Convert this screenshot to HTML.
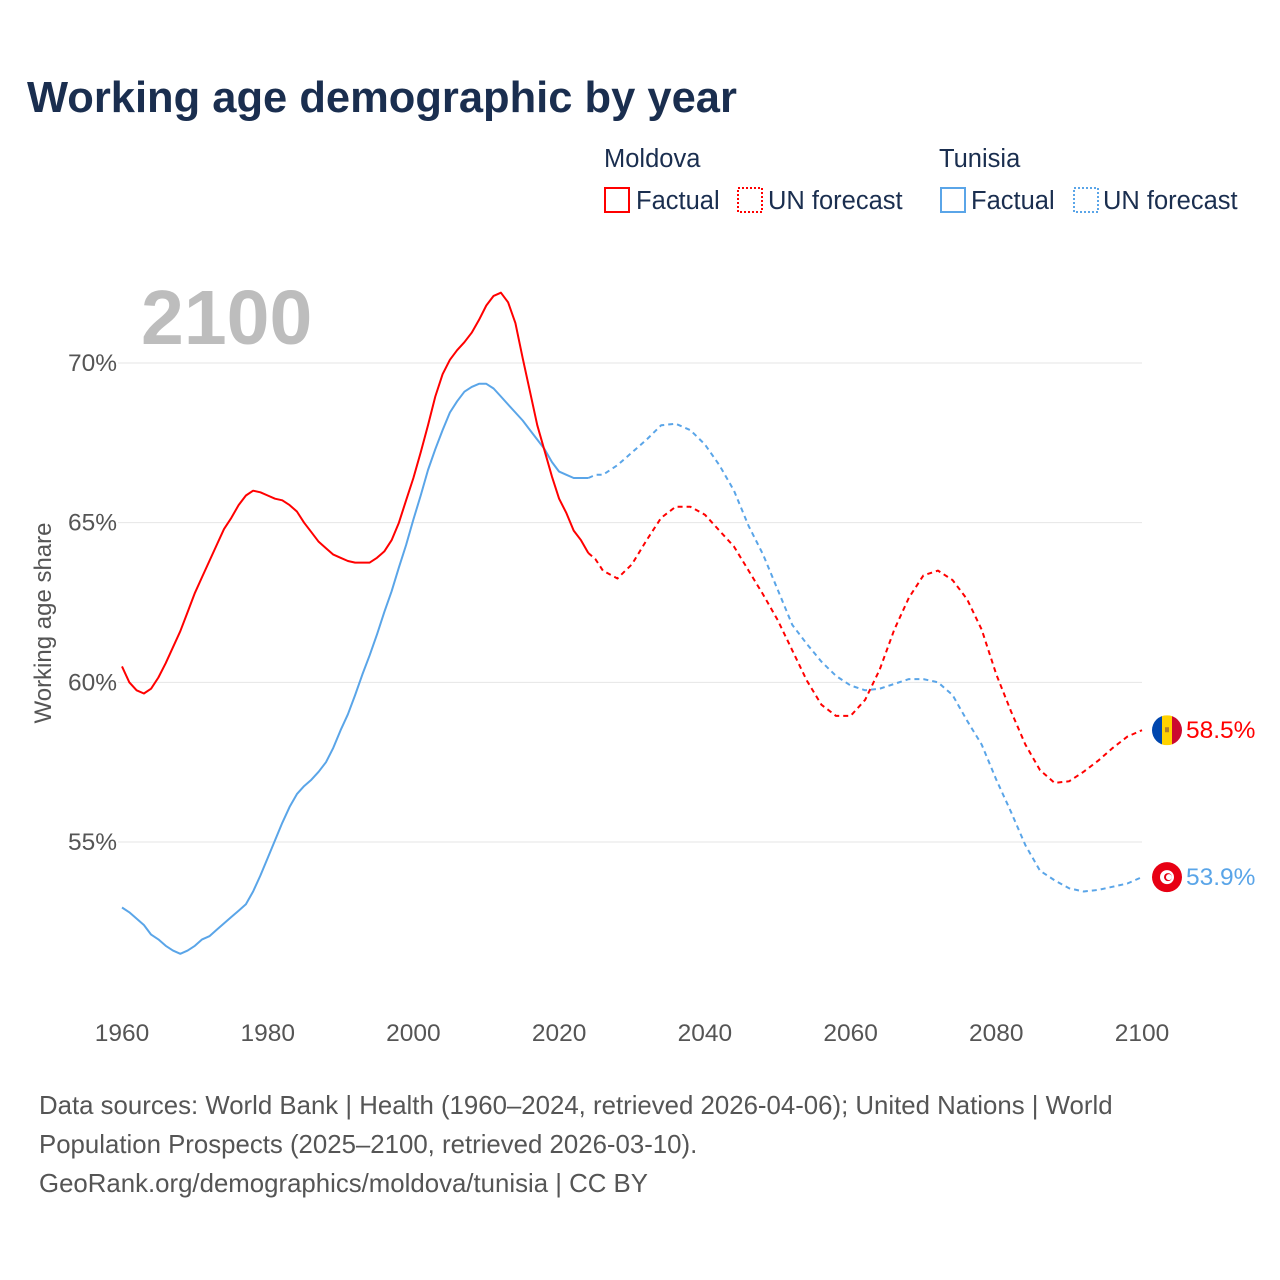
<!DOCTYPE html>
<html><head><meta charset="utf-8">
<style>
body{margin:0;background:#fff;font-family:"Liberation Sans",sans-serif;}
#wrap{position:relative;width:1280px;height:1280px;overflow:hidden;}
</style></head>
<body><div id="wrap">
<svg id="chart" width="1280" height="1280">
<text x="27" y="112" font-size="43.5" font-weight="bold" fill="#1a2e4f">Working age demographic by year</text>
<g font-size="25.5" fill="#1a2e4f">
<text x="604" y="167">Moldova</text>
<text x="939" y="167">Tunisia</text>
<g><rect x="605" y="188" width="24" height="24" fill="none" stroke="#ff0000" stroke-width="2"/><text x="636" y="209">Factual</text></g>
<g><rect x="738" y="188" width="24" height="24" fill="none" stroke="#ff0000" stroke-width="2" stroke-dasharray="2,2"/><text x="768" y="209">UN forecast</text></g>
<g><rect x="941" y="188" width="24" height="24" fill="none" stroke="#5aa5e8" stroke-width="2"/><text x="971" y="209">Factual</text></g>
<g><rect x="1074" y="188" width="24" height="24" fill="none" stroke="#5aa5e8" stroke-width="2" stroke-dasharray="2,2"/><text x="1103" y="209">UN forecast</text></g>
</g>
<text x="141" y="344" font-size="77" font-weight="bold" fill="#bdbdbd">2100</text>
<g id="grid"></g><g id="series"></g><g id="ends"></g>
<text transform="translate(51,623) rotate(-90)" text-anchor="middle" font-size="24" fill="#555">Working age share</text>
<g font-size="25.8" fill="#555">
<text x="39" y="1114">Data sources: World Bank | Health (1960–2024, retrieved 2026-04-06); United Nations | World</text>
<text x="39" y="1153">Population Prospects (2025–2100, retrieved 2026-03-10).</text>
<text x="39" y="1192">GeoRank.org/demographics/moldova/tunisia | CC BY</text>
</g>
</svg>
<script>
const yTicks=[55,60,65,70];
const xTicks=[1960,1980,2000,2020,2040,2060,2080,2100];
const mdYears=[1960,1961,1962,1963,1964,1965,1966,1967,1968,1969,1970,1971,1972,1973,1974,1975,1976,1977,1978,1979,1980,1981,1982,1983,1984,1985,1986,1987,1988,1989,1990,1991,1992,1993,1994,1995,1996,1997,1998,1999,2000,2001,2002,2003,2004,2005,2006,2007,2008,2009,2010,2011,2012,2013,2014,2015,2016,2017,2018,2019,2020,2021,2022,2023,2024];
const mdFact=[60.5,60.0,59.75,59.65,59.8,60.15,60.6,61.1,61.6,62.2,62.8,63.3,63.8,64.3,64.8,65.15,65.55,65.85,66.0,65.95,65.85,65.75,65.7,65.55,65.35,65.0,64.7,64.4,64.2,64.0,63.9,63.8,63.75,63.75,63.75,63.9,64.1,64.45,65.0,65.7,66.4,67.2,68.05,68.95,69.65,70.1,70.4,70.65,70.95,71.35,71.8,72.1,72.2,71.9,71.25,70.15,69.1,68.05,67.25,66.45,65.75,65.3,64.75,64.45,64.05];
const tnFact=[52.95,52.8,52.6,52.4,52.1,51.95,51.75,51.6,51.5,51.6,51.75,51.95,52.05,52.25,52.45,52.65,52.85,53.05,53.45,53.95,54.5,55.05,55.6,56.1,56.5,56.75,56.95,57.2,57.5,57.95,58.5,59.0,59.6,60.25,60.85,61.5,62.2,62.85,63.6,64.3,65.1,65.85,66.65,67.3,67.9,68.45,68.8,69.1,69.25,69.35,69.35,69.2,68.95,68.7,68.45,68.2,67.9,67.6,67.3,66.9,66.6,66.5,66.4,66.4,66.4];
const fcYears=[2024,2025,2026,2028,2030,2032,2034,2036,2038,2040,2042,2044,2046,2048,2050,2052,2054,2056,2058,2060,2062,2064,2066,2068,2070,2072,2074,2076,2078,2080,2082,2084,2086,2088,2090,2092,2094,2096,2098,2100];
const mdFc=[64.05,63.85,63.5,63.25,63.7,64.45,65.15,65.5,65.5,65.25,64.75,64.25,63.5,62.75,61.95,61.0,60.05,59.3,58.95,58.95,59.45,60.4,61.65,62.65,63.35,63.5,63.2,62.6,61.65,60.25,59.1,58.05,57.25,56.85,56.9,57.2,57.55,57.95,58.3,58.5];
const tnFc=[66.4,66.5,66.5,66.8,67.2,67.6,68.05,68.1,67.9,67.45,66.8,66.0,64.9,64.0,62.9,61.8,61.2,60.65,60.2,59.9,59.75,59.8,59.95,60.1,60.1,60.0,59.6,58.8,58.05,56.95,55.95,54.9,54.1,53.8,53.55,53.45,53.5,53.6,53.7,53.9];
const NS='http://www.w3.org/2000/svg';
const X=y=>122+(y-1960)*(1020/140);
const Y=v=>363+(70-v)*(479/15);
function mk(t,a,p){const e=document.createElementNS(NS,t);for(const k in a)e.setAttribute(k,a[k]);p.appendChild(e);return e;}
const grid=document.getElementById('grid');
yTicks.forEach(v=>{
 const l=mk('line',{x1:118,x2:1142,y1:Y(v),y2:Y(v),stroke:'#e6e6e6','stroke-width':1},grid);
 
 
 const t=mk('text',{x:117,y:Y(v)+8,'text-anchor':'end','font-size':24.5,fill:'#555'},grid);
 t.textContent=v+'%';
 
 
});
xTicks.forEach(y=>{
 const t=mk('text',{x:X(y),y:1041,'text-anchor':'middle','font-size':24.5,fill:'#555'},grid);
 t.textContent=y;
 
 
});
const ser=document.getElementById('series');
function line(xs,vs,col,dash,name){
 const d=xs.map((y,i)=>(i?'L':'M')+X(y).toFixed(1)+','+Y(vs[i]).toFixed(1)).join('');
 const p=mk('path',{d:d,fill:'none',stroke:col,'stroke-width':2,'stroke-linejoin':'round'},ser);
 if(dash)p.setAttribute('stroke-dasharray','5,4');
 
 
}
line(mdYears,tnFact,'#5aa5e8',false,'tunisia-factual-line');
line(fcYears,tnFc,'#5aa5e8',true,'tunisia-forecast-line');
line(mdYears,mdFact,'#ff0000',false,'moldova-factual-line');
line(fcYears,mdFc,'#ff0000',true,'moldova-forecast-line');
const ends=document.getElementById('ends');
const mv=mdFc[mdFc.length-1], tv=tnFc[tnFc.length-1];
const cx=1167, my=Y(mv), ty=Y(tv);
const defs=mk('defs',{},ends);
const cp=mk('clipPath',{id:'cm'},defs);mk('circle',{cx:cx,cy:my,r:15},cp);
const fm=mk('g',{'clip-path':'url(#cm)'},ends);


mk('rect',{x:cx-15,y:my-15,width:10,height:30,fill:'#0046ae'},fm);
mk('rect',{x:cx-5,y:my-15,width:10,height:30,fill:'#ffd200'},fm);
mk('rect',{x:cx+5,y:my-15,width:10,height:30,fill:'#cc092f'},fm);
mk('rect',{x:cx-2,y:my-3,width:4,height:5,fill:'#b07e2a'},fm);
const ft=mk('g',{},ends);


mk('circle',{cx:cx,cy:ty,r:15,fill:'#e70013'},ft);
mk('circle',{cx:cx,cy:ty,r:7,fill:'#fff'},ft);
mk('circle',{cx:cx+1,cy:ty,r:4,fill:'#e70013'},ft);
mk('circle',{cx:cx+2,cy:ty,r:3,fill:'#fff'},ft);
const lm=mk('text',{x:1186,y:my+8,'font-size':24.5,fill:'#ff0000'},ends);
lm.textContent=mv.toFixed(1)+'%';


const lt=mk('text',{x:1186,y:ty+8,'font-size':24.5,fill:'#5aa5e8'},ends);
lt.textContent=tv.toFixed(1)+'%';


</script>
</div></body></html>
